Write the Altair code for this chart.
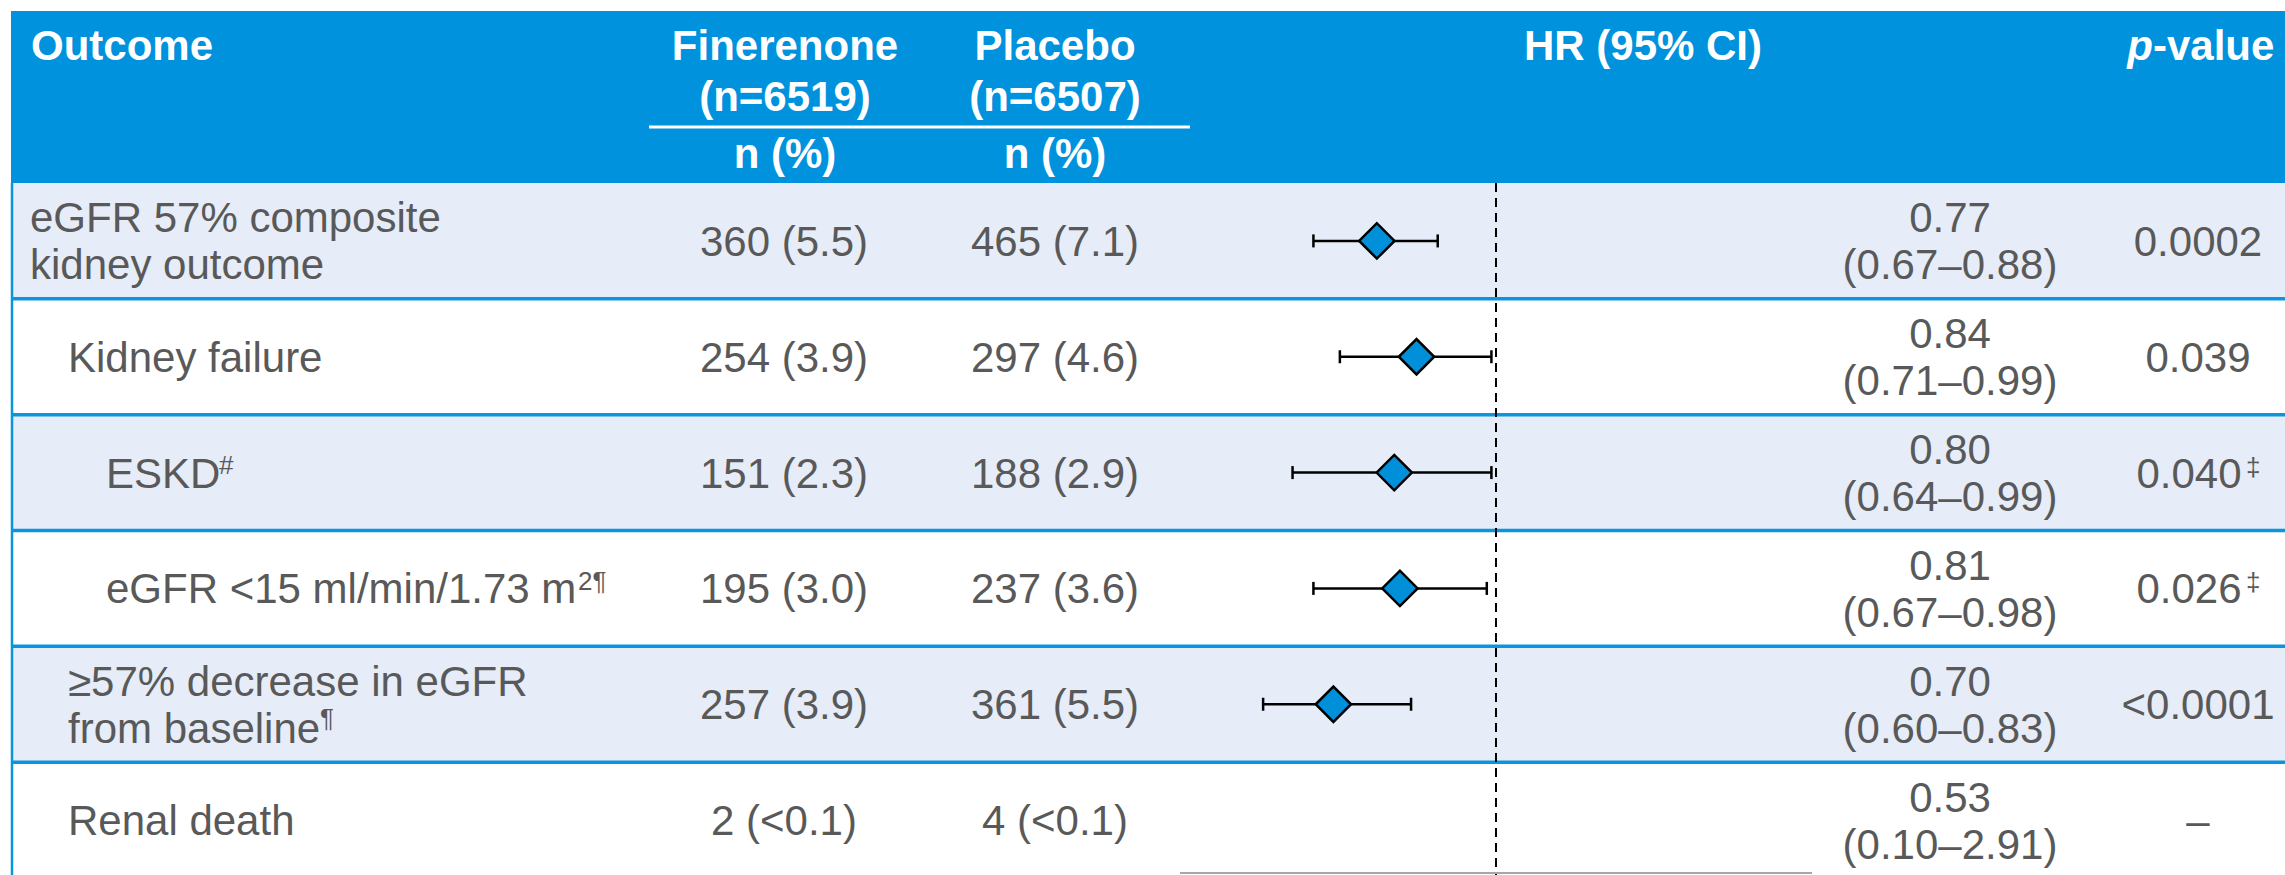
import altair as alt
import pandas as pd

# ---- table content -------------------------------------------------------
outcome_labels = [
    "eGFR 57% composite\nkidney outcome",
    "Kidney failure",
    "ESKD",
    "eGFR <15 ml/min/1.73 m",
    "≥57% decrease in eGFR\nfrom baseline",
    "Renal death",
]
indent_level = [0, 1, 2, 2, 1, 1]
label_marks = ["", "", "#", "2¶", "¶", ""]

finerenone_n = [360, 254, 151, 195, 257, 2]
finerenone_pct = ["5.5", "3.9", "2.3", "3.0", "3.9", "<0.1"]
placebo_n = [465, 297, 188, 237, 361, 4]
placebo_pct = ["7.1", "4.6", "2.9", "3.6", "5.5", "<0.1"]

hazard_ratio = [0.77, 0.84, 0.80, 0.81, 0.70, 0.53]
ci_low = [0.67, 0.71, 0.64, 0.67, 0.60, 0.10]
ci_high = [0.88, 0.99, 0.99, 0.98, 0.83, 2.91]

p_values = ["0.0002", "0.039", "0.040", "0.026", "<0.0001", "–"]
p_marks = ["", "", "‡", "‡", "", ""]

hr_axis_limits = [0.5, 2.0]
no_effect = [1.0]

# ---- styling -------------------------------------------------------------
FONT = "Liberation Sans, Arial, Helvetica, sans-serif"
HEAD_BLUE = "#0092DD"
LINE_BLUE = "#0A95DE"
STRIPE = "#E6ECF8"
GREY = "#595959"
DIAMOND = "#0090DA"
FS = 42
LINE_H = 47

rows = pd.DataFrame({
    "idx": list(range(len(outcome_labels))),
    "label": outcome_labels,
    "lines": [s.count("\n") + 1 for s in outcome_labels],
    "level": indent_level,
    "label_mark": label_marks,
    "fin": [f"{n} ({p})" for n, p in zip(finerenone_n, finerenone_pct)],
    "pla": [f"{n} ({p})" for n, p in zip(placebo_n, placebo_pct)],
    "hr": hazard_ratio,
    "lo": ci_low,
    "hi": ci_high,
    "hr_text": [f"{h:.2f}\n({l:.2f}–{u:.2f})" for h, l, u in zip(hazard_ratio, ci_low, ci_high)],
    "p": p_values,
    "p_mark": p_marks,
})
one = pd.DataFrame({"k": [0]})
limits = pd.DataFrame({"lo": [hr_axis_limits[0]], "hi": [hr_axis_limits[1]]})
ref = pd.DataFrame({"hr": no_effect})

row_scale = alt.Scale(type="band", domain=rows["idx"].tolist(), range=[183, 878],
                      paddingInner=0, paddingOuter=0)
hr_scale = alt.Scale(type="log", domain=hr_axis_limits, range=[1180, 1812])
Y = alt.Y("idx:O", scale=row_scale, axis=None)

base = alt.Chart(rows)


def header_text(txt, x, y, align="center", style="normal"):
    return alt.Chart(one).mark_text(
        text=txt, font=FONT, fontSize=FS, fontWeight="bold", fontStyle=style,
        color="white", align=align, baseline="alphabetic",
    ).encode(x=alt.value(x), y=alt.value(y))


def body_text(chart, field, x, align="center", lines=1):
    # centre a block of `lines` lines on the row
    dy = 2 - LINE_H * (lines - 1) / 2
    return chart.mark_text(
        font=FONT, fontSize=FS, color=GREY, align=align, baseline="middle",
        lineBreak="\n", lineHeight=LINE_H, dy=dy,
    ).encode(x=alt.value(x), y=Y, text=f"{field}:N")


def superscript(chart, field, x, dy):
    return chart.mark_text(
        font=FONT, fontSize=26, color=GREY, align="left", baseline="top", dy=dy,
    ).encode(x=alt.value(x), y=Y, text=f"{field}:N")


layers = []

# header band
layers.append(alt.Chart(one).mark_rect(color=HEAD_BLUE).encode(
    x=alt.value(11), x2=alt.value(2285), y=alt.value(11), y2=alt.value(183)))

# striped row backgrounds
layers.append(base.mark_rect().encode(
    x=alt.value(12), x2=alt.value(2285), y=Y,
    color=alt.condition("datum.idx % 2 == 0", alt.value(STRIPE), alt.value("white")),
))

# row separators and left border
layers.append(base.transform_filter("datum.idx > 0").mark_rule(
    color=LINE_BLUE, strokeWidth=3.5).encode(
    x=alt.value(12), x2=alt.value(2285),
    y=alt.Y("idx:O", scale=row_scale, axis=None, bandPosition=0)))
layers.append(alt.Chart(one).mark_rule(color=LINE_BLUE, strokeWidth=2.5).encode(
    x=alt.value(12), y=alt.value(183), y2=alt.value(875)))

# header line under the treatment arms
layers.append(alt.Chart(one).mark_rule(color="white", strokeWidth=3).encode(
    x=alt.value(649), x2=alt.value(1190), y=alt.value(127)))

# header texts
layers += [
    header_text("Outcome", 31, 60, align="left"),
    header_text("Finerenone", 785, 60),
    header_text("(n=6519)", 785, 111),
    header_text("Placebo", 1055, 60),
    header_text("(n=6507)", 1055, 111),
    header_text("n (%)", 785, 168),
    header_text("n (%)", 1055, 168),
    header_text("HR (95% CI)", 1643, 60),
    header_text("p", 2153, 60, align="right", style="italic"),
    header_text("-value", 2153, 60, align="left"),
]

# outcome labels, indented by level
for lvl, x in [(0, 30), (1, 68), (2, 106)]:
    for n in (1, 2):
        layers.append(body_text(
            base.transform_filter(f"datum.level == {lvl} && datum.lines == {n}"),
            "label", x, align="left", lines=n))

# superscript marks on labels
for i, x, dy in [(2, 219, -20), (3, 578, -19), (4, 320, 2)]:
    layers.append(superscript(base.transform_filter(f"datum.idx == {i}"), "label_mark", x, dy))

# event counts
layers.append(body_text(base, "fin", 784))
layers.append(body_text(base, "pla", 1055))

# hazard ratios
layers.append(body_text(base, "hr_text", 1950, lines=2))

# p-values
layers.append(body_text(base.transform_filter("datum.p_mark == ''"), "p", 2198))
layers.append(body_text(base.transform_filter("datum.p_mark != ''"), "p", 2189))
layers.append(superscript(base.transform_filter("datum.p_mark != ''"), "p_mark", 2246, -18))

# forest plot: line of no effect
layers.append(alt.Chart(ref).mark_rule(color="black", strokeWidth=2, strokeDash=[9, 6]).encode(
    x=alt.X("hr:Q", scale=hr_scale, axis=None), y=alt.value(183), y2=alt.value(875)))

# forest plot: horizontal axis line
layers.append(alt.Chart(limits).mark_rule(color="#A6A6A6", strokeWidth=2).encode(
    x=alt.X("lo:Q", scale=hr_scale, axis=None), x2="hi:Q", y=alt.value(873)))

# only estimates whose interval lies inside the axis range are drawn
shown = base.transform_filter(
    f"datum.lo >= {hr_axis_limits[0]} && datum.hi <= {hr_axis_limits[1]}")

layers.append(shown.mark_rule(color="black", strokeWidth=2.5).encode(
    x=alt.X("lo:Q", scale=hr_scale, axis=None), x2="hi:Q", y=Y))
for f in ["lo", "hi"]:
    layers.append(shown.mark_tick(orient="vertical", size=13, thickness=2.5,
                                  color="black", opacity=1).encode(
        x=alt.X(f"{f}:Q", scale=hr_scale, axis=None), y=Y))
layers.append(shown.mark_point(shape="diamond", filled=True, size=1250, fill=DIAMOND,
                               stroke="black", strokeWidth=2.5, opacity=1).encode(
    x=alt.X("hr:Q", scale=hr_scale, axis=None), y=Y))

chart = alt.layer(*layers).properties(
    width=2285, height=875, padding=0,
    autosize=alt.AutoSizeParams(type="none"),
).configure_view(strokeWidth=0)

chart.save("out.html", embed_options={"renderer": "svg", "actions": False})
